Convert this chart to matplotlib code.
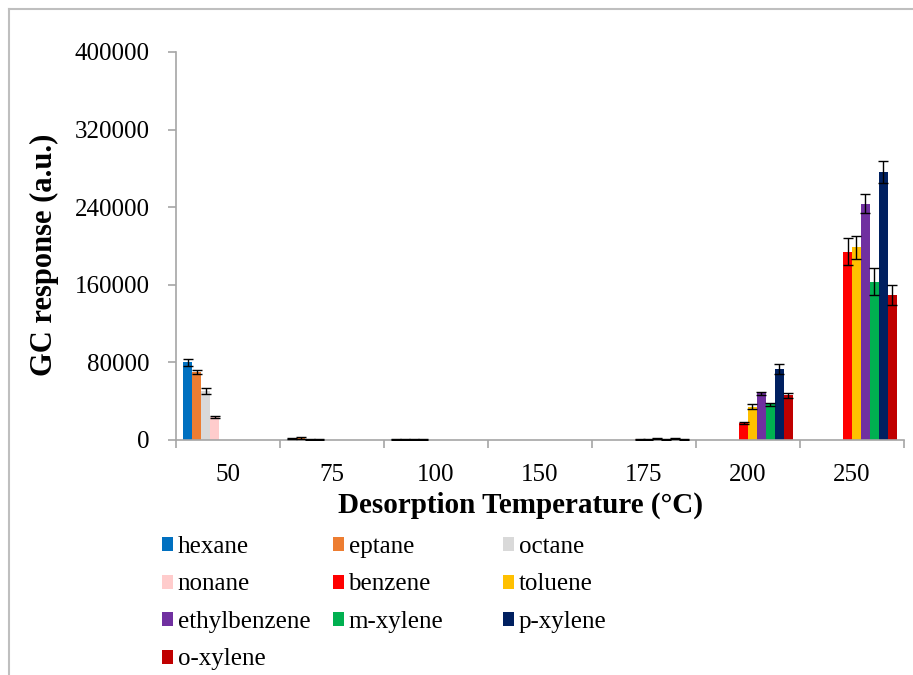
import numpy as np
import matplotlib
matplotlib.use("Agg")
import matplotlib.pyplot as plt
from matplotlib.patches import Patch
from matplotlib.lines import Line2D

temperatures = ["50", "75", "100", "150", "175", "200", "250"]
compounds = ["hexane", "eptane", "octane", "nonane", "benzene", "toluene",
             "ethylbenzene", "m-xylene", "p-xylene", "o-xylene"]
colors = ["#0070C0", "#ED7D31", "#D9D9D9", "#FFCCCC", "#FF0000", "#FFC000",
          "#7030A0", "#00B050", "#002060", "#C00000"]

hexane       = [79900, 1500, 800, 0, 0, 0, 0]
eptane       = [70100, 2000, 800, 0, 0, 0, 0]
octane       = [50200, 800, 600, 0, 0, 0, 0]
nonane       = [23700, 500, 500, 0, 0, 0, 0]
benzene      = [0, 0, 0, 0, 800, 17800, 194300]
toluene      = [0, 0, 0, 0, 900, 34200, 198500]
ethylbenzene = [0, 0, 0, 0, 1200, 48100, 243500]
m_xylene     = [0, 0, 0, 0, 800, 36900, 163400]
p_xylene     = [0, 0, 0, 0, 1300, 73400, 276500]
o_xylene     = [0, 0, 0, 0, 1000, 45900, 149800]

hexane_sd       = [3300, 800, 300, 0, 0, 0, 0]
eptane_sd       = [2000, 600, 300, 0, 0, 0, 0]
octane_sd       = [3000, 300, 200, 0, 0, 0, 0]
nonane_sd       = [1300, 200, 200, 0, 0, 0, 0]
benzene_sd      = [0, 0, 0, 0, 400, 1000, 14200]
toluene_sd      = [0, 0, 0, 0, 400, 2500, 12200]
ethylbenzene_sd = [0, 0, 0, 0, 500, 1700, 9800]
m_xylene_sd     = [0, 0, 0, 0, 400, 1500, 13600]
p_xylene_sd     = [0, 0, 0, 0, 600, 5300, 11200]
o_xylene_sd     = [0, 0, 0, 0, 500, 2200, 10300]

values = [hexane, eptane, octane, nonane, benzene, toluene,
          ethylbenzene, m_xylene, p_xylene, o_xylene]
errors = [hexane_sd, eptane_sd, octane_sd, nonane_sd, benzene_sd, toluene_sd,
          ethylbenzene_sd, m_xylene_sd, p_xylene_sd, o_xylene_sd]

yticks = [0, 80000, 160000, 240000, 320000, 400000]

FONT = "Liberation Serif"
AXIS_GREY = "#A6A6A6"
W, H = 913, 675

fig = plt.figure(figsize=(W / 100, H / 100), dpi=100)
ax = fig.add_axes([176 / W, 235 / H, 728 / W, 388 / H])

x = np.arange(len(temperatures))
n = len(compounds)
width = 0.0865
for i, (name, vals, errs, col) in enumerate(zip(compounds, values, errors, colors)):
    pos = x + (i - (n - 1) / 2) * width
    vals = np.asarray(vals, dtype=float)
    errs = np.asarray(errs, dtype=float)
    ax.bar(pos, vals, width=width, color=col, label=name, zorder=2)
    m = vals > 0
    ax.errorbar(pos[m], vals[m], yerr=errs[m], fmt="none", ecolor="black",
                elinewidth=1.0, capsize=3.6, capthick=1.0, zorder=3)

ax.set_xlim(-0.5, len(temperatures) - 0.5)
ax.set_ylim(0, 400000)
ax.set_yticks(yticks)
ax.set_yticklabels([str(t) for t in yticks], fontfamily=FONT, fontsize=18)
ax.set_xticks(x)
ax.set_xticklabels(temperatures, fontfamily=FONT, fontsize=18)
ax.set_xticks(np.arange(len(temperatures) + 1) - 0.5, minor=True)
ax.tick_params(axis="x", which="major", length=0, pad=17)
ax.tick_params(axis="x", which="minor", length=6, width=1.2, color=AXIS_GREY)
ax.tick_params(axis="y", which="major", length=6, width=1.2, color=AXIS_GREY, pad=13)

for side in ("top", "right"):
    ax.spines[side].set_visible(False)
for side in ("left", "bottom"):
    ax.spines[side].set_color(AXIS_GREY)
    ax.spines[side].set_linewidth(1.2)

# Axis titles placed in figure coordinates
fig.text(521 / W, 1 - 505 / H, "Desorption Temperature (°C)", fontfamily=FONT,
         fontsize=21, fontweight="bold", ha="center", va="center")
fig.text(44 / W, 1 - 255 / H, "GC response (a.u.)", fontfamily=FONT,
         fontsize=22, fontweight="bold", ha="center", va="center", rotation=90)

# Legend laid out row by row in three evenly spaced columns
col_x = [162 / W, 333 / W, 503 / W]
for c in range(3):
    idx = list(range(c, n, 3))
    handles = [Patch(facecolor=colors[k], edgecolor="none") for k in idx]
    labels = [compounds[k] for k in idx]
    fig.legend(handles, labels, loc="upper left",
               bbox_to_anchor=(col_x[c], 1 - 536 / H),
               frameon=False, handlelength=0.45, handleheight=0.5,
               handletextpad=0.17, labelspacing=0.62, borderaxespad=0,
               borderpad=0, prop={"family": FONT, "size": 18})

# Outer frame of the figure
fig.add_artist(Line2D([9 / W, 9 / W], [0, 1 - 9 / H], color="#BFBFBF",
                      lw=1.5, transform=fig.transFigure))
fig.add_artist(Line2D([9 / W, 1], [1 - 9 / H, 1 - 9 / H], color="#BFBFBF",
                      lw=1.5, transform=fig.transFigure))

fig.savefig("out.png", dpi=100, facecolor="white")
